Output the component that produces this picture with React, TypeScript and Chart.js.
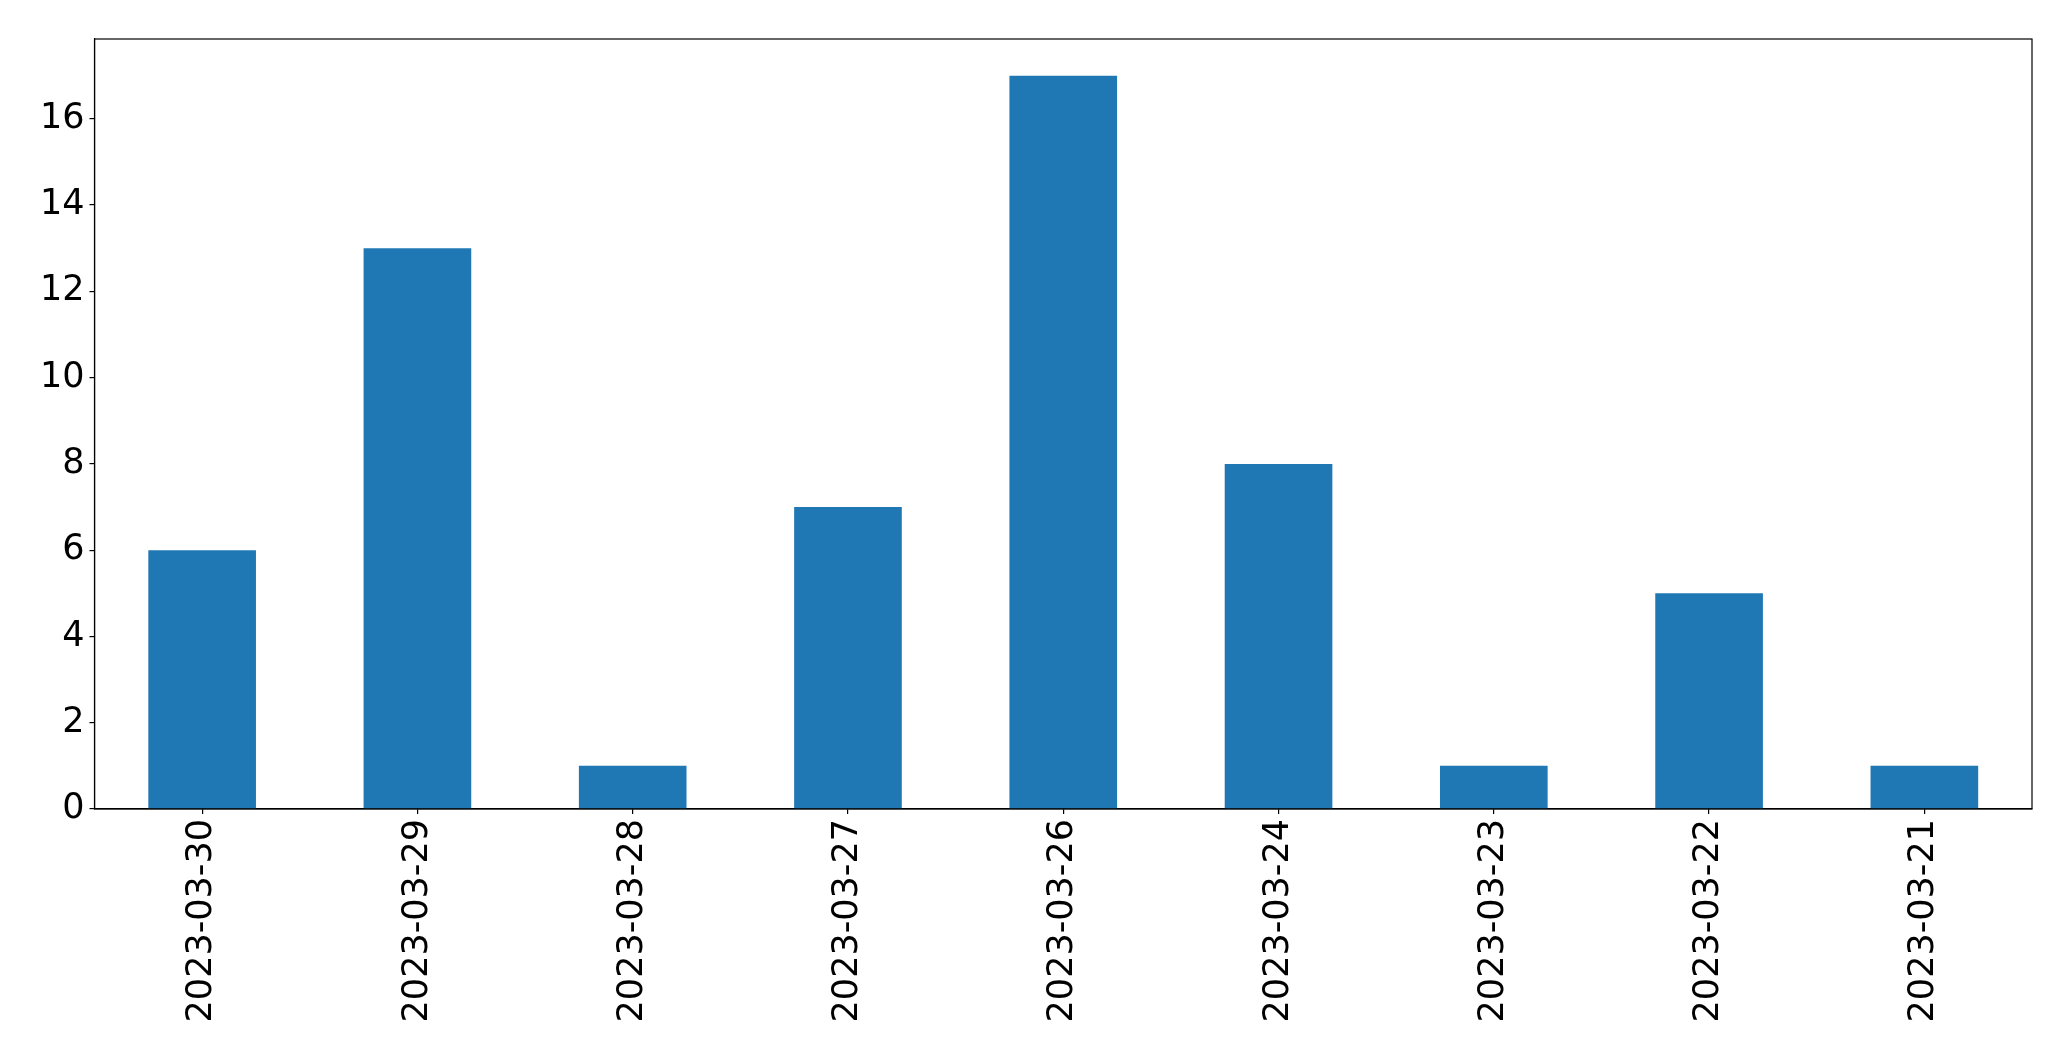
import React, { useEffect, useRef } from "react";
import { Chart, registerables } from "chart.js";

Chart.register(...registerables);

const categories = [
  "2023-03-30",
  "2023-03-29",
  "2023-03-28",
  "2023-03-27",
  "2023-03-26",
  "2023-03-24",
  "2023-03-23",
  "2023-03-22",
  "2023-03-21",
];
const counts = [6, 13, 1, 7, 17, 8, 1, 5, 1];
const yTickStep = 2;

const W = 2071;
const H = 1061;

const framePlugin = {
  id: "frame",
  afterDraw(chart: any) {
    const { ctx, chartArea } = chart;
    ctx.save();
    ctx.strokeStyle = "#000";
    ctx.lineWidth = 1.2;
    ctx.strokeRect(chartArea.left, chartArea.top, chartArea.right - chartArea.left, chartArea.bottom - chartArea.top);
    ctx.restore();
  },
};

export default function App() {
  const ref = useRef<HTMLCanvasElement | null>(null);
  useEffect(() => {
    if (!ref.current) return;
    const maxVal = Math.max(...counts);
    const chart = new Chart(ref.current, {
      type: "bar",
      data: {
        labels: categories,
        datasets: [
          {
            data: counts,
            backgroundColor: "#1f77b4",
            borderWidth: 0,
            categoryPercentage: 1,
            barPercentage: 0.5,
          },
        ],
      },
      plugins: [framePlugin],
      options: {
        responsive: false,
        animation: false,
        devicePixelRatio: 1,
        layout: { padding: { top: 39, right: 39, left: 0, bottom: 0 } },
        plugins: { legend: { display: false }, tooltip: { enabled: false } },
        scales: {
          x: {
            offset: true,
            grid: { display: true, drawOnChartArea: false, offset: false, tickLength: 5, color: "#000", lineWidth: 1.2 },
            border: { display: true, color: "#000", width: 1.2 },
            ticks: {
              autoSkip: false,
              minRotation: 90,
              maxRotation: 90,
              padding: 5,
              color: "#000",
              font: { family: "DejaVu Sans", size: 35 },
            },
            afterFit: (scale: any) => {
              scale.height = H - 809;
            },
          },
          y: {
            min: 0,
            max: maxVal * 1.05,
            grid: { display: true, drawOnChartArea: false, tickLength: 5, color: "#000", lineWidth: 1.2 },
            border: { display: true, color: "#000", width: 1.2 },
            ticks: {
              stepSize: yTickStep,
              includeBounds: false,
              padding: 5,
              color: "#000",
              font: { family: "DejaVu Sans", size: 35 },
            },
            afterFit: (scale: any) => {
              scale.width = 94.5;
            },
          },
        },
      },
    });
    return () => chart.destroy();
  }, []);
  return (
    <div style={{ position: "fixed", left: 0, top: 0, width: W, height: H, background: "#fff" }}>
      <canvas ref={ref} width={W} height={H} style={{ width: W, height: H }} />
    </div>
  );
}
